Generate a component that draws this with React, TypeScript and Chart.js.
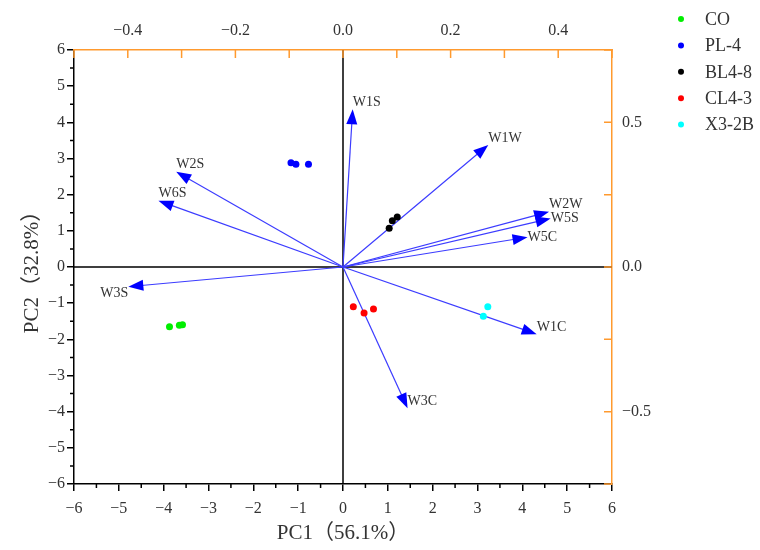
import React, { useEffect, useRef } from 'react';
import { Chart, registerables } from 'chart.js';

Chart.register(...registerables);

// ---- Scores (PC1, PC2) per group ----
const GROUPS = ['CO', 'PL-4', 'BL4-8', 'CL4-3', 'X3-2B'];
const GROUP_COLORS = ['#00ee00', '#0000ff', '#000000', '#ff0000', '#00ffff'];
const CO_PC1 = [-3.87, -3.65, -3.58];
const CO_PC2 = [-1.65, -1.61, -1.6];
const PL4_PC1 = [-1.16, -1.05, -0.77];
const PL4_PC2 = [2.88, 2.84, 2.84];
const BL48_PC1 = [1.03, 1.1, 1.21];
const BL48_PC2 = [1.07, 1.28, 1.38];
const CL43_PC1 = [0.23, 0.47, 0.68];
const CL43_PC2 = [-1.1, -1.27, -1.16];
const X32B_PC1 = [3.23, 3.13];
const X32B_PC2 = [-1.1, -1.36];
const GROUP_PC1 = [CO_PC1, PL4_PC1, BL48_PC1, CL43_PC1, X32B_PC1];
const GROUP_PC2 = [CO_PC2, PL4_PC2, BL48_PC2, CL43_PC2, X32B_PC2];

// ---- Loadings (top / right axes) ----
const VAR_NAMES = ['W1S', 'W1W', 'W2W', 'W5S', 'W5C', 'W1C', 'W3C', 'W2S', 'W6S', 'W3S'];
const LOAD_PC1 = [0.018, 0.27, 0.383, 0.386, 0.343, 0.36, 0.12, -0.31, -0.343, -0.399];
const LOAD_PC2 = [0.545, 0.422, 0.191, 0.168, 0.103, -0.232, -0.488, 0.329, 0.229, -0.068];

// ---- Axis text ----
const X_TITLE = 'PC1（56.1%）';
const Y_TITLE = 'PC2（32.8%）';

// label anchor style for each vector label (style only)
const LABEL_ANCHOR = ['lb', 'lb', 'lb', 'lm', 'lm', 'lb', 'lb', 'lb', 'lb', 'rt'];

const SERIF = "'Liberation Serif', 'Noto Sans CJK SC', serif";
const ORANGE = '#ff9a2e';
const TXT = '#333333';

const fmt = (v: number, d: number) => {
  const s = Math.abs(v).toFixed(d);
  return v < -1e-9 ? '\u2212' + s : s;
};

const biplot = {
  id: 'biplot',
  beforeDatasetsDraw(chart: any) {
    const { ctx, chartArea: a, scales } = chart;
    const x = scales.x, y = scales.y, x2 = scales.x2, y2 = scales.y2;
    ctx.save();
    ctx.strokeStyle = '#000';
    ctx.lineWidth = 1.5;
    const zx = x.getPixelForValue(0), zy = y.getPixelForValue(0);
    ctx.beginPath();
    ctx.moveTo(zx, a.top); ctx.lineTo(zx, a.bottom);
    ctx.moveTo(a.left, zy); ctx.lineTo(a.right, zy);
    ctx.stroke();

    const ox = x2.getPixelForValue(0), oy = y2.getPixelForValue(0);
    ctx.font = '14px ' + SERIF;
    VAR_NAMES.forEach((name, i) => {
      const tx = x2.getPixelForValue(LOAD_PC1[i]);
      const ty = y2.getPixelForValue(LOAD_PC2[i]);
      const ang = Math.atan2(ty - oy, tx - ox);
      const L = 15, W = 5.5;
      const bx = tx - L * Math.cos(ang), by = ty - L * Math.sin(ang);
      ctx.strokeStyle = '#3c3cff';
      ctx.lineWidth = 1.2;
      ctx.beginPath(); ctx.moveTo(ox, oy); ctx.lineTo(bx + 2 * Math.cos(ang), by + 2 * Math.sin(ang)); ctx.stroke();
      ctx.fillStyle = '#0000ff';
      ctx.beginPath();
      ctx.moveTo(tx, ty);
      ctx.lineTo(bx - W * Math.sin(ang), by + W * Math.cos(ang));
      ctx.lineTo(bx + W * Math.sin(ang), by - W * Math.cos(ang));
      ctx.closePath();
      ctx.fill();
      const an = LABEL_ANCHOR[i];
      ctx.fillStyle = TXT;
      ctx.textAlign = an[0] === 'l' ? 'left' : 'right';
      ctx.textBaseline = an[1] === 'b' ? 'bottom' : an[1] === 'm' ? 'middle' : 'top';
      ctx.fillText(name, tx, ty);
    });
    ctx.restore();
  },
  afterDraw(chart: any) {
    const { ctx, chartArea: a, scales } = chart;
    const x = scales.x, y = scales.y, x2 = scales.x2, y2 = scales.y2;
    ctx.save();
    // inward ticks, orange axes
    ctx.strokeStyle = ORANGE;
    ctx.lineWidth = 1.5;
    ctx.beginPath();
    x2.ticks.forEach((t: any) => {
      const px = x2.getPixelForValue(t.value);
      ctx.moveTo(px, a.top); ctx.lineTo(px, a.top + 8);
    });
    y2.ticks.forEach((t: any) => {
      const py = y2.getPixelForValue(t.value);
      ctx.moveTo(a.right, py); ctx.lineTo(a.right - 8, py);
    });
    ctx.stroke();
    // minor ticks on black axes
    ctx.strokeStyle = '#000';
    ctx.beginPath();
    for (let v = -5.5; v < 6; v += 1) {
      const px = x.getPixelForValue(v);
      ctx.moveTo(px, a.bottom); ctx.lineTo(px, a.bottom + 4);
      const py = y.getPixelForValue(v);
      ctx.moveTo(a.left, py); ctx.lineTo(a.left - 4, py);
    }
    ctx.stroke();
    // legend
    ctx.font = '18px ' + SERIF;
    ctx.textAlign = 'left';
    ctx.textBaseline = 'middle';
    GROUPS.forEach((g, i) => {
      const ly = 19 + i * 26.4;
      ctx.fillStyle = GROUP_COLORS[i];
      ctx.beginPath(); ctx.arc(681, ly, 3, 0, Math.PI * 2); ctx.fill();
      ctx.fillStyle = TXT;
      ctx.fillText(g, 705, ly + 1);
    });
    ctx.restore();
  },
};

export default function App() {
  const ref = useRef<HTMLCanvasElement>(null);
  useEffect(() => {
    if (!ref.current) return;
    const tickFont = { family: SERIF, size: 16 };
    const titleFont = { family: SERIF, size: 21 };
    const chart = new Chart(ref.current, {
      type: 'scatter',
      data: {
        datasets: GROUPS.map((g, i) => ({
          label: g,
          data: GROUP_PC1[i].map((v, j) => ({ x: v, y: GROUP_PC2[i][j] })),
          backgroundColor: GROUP_COLORS[i],
          borderWidth: 0,
          pointRadius: 3.5,
          xAxisID: 'x',
          yAxisID: 'y',
        })),
      },
      options: {
        animation: false,
        responsive: false,
        devicePixelRatio: 1,
        layout: { padding: 0 },
        plugins: { legend: { display: false }, tooltip: { enabled: false } },
        scales: {
          x: {
            type: 'linear', position: 'bottom', min: -6, max: 6,
            ticks: { stepSize: 1, font: tickFont, color: TXT, padding: 8, autoSkip: false, maxRotation: 0, callback: (v: any) => fmt(v, 0) },
            grid: { display: true, drawOnChartArea: false, drawTicks: true, tickLength: 7, color: '#000', lineWidth: 1.5 },
            border: { display: true, color: '#000', width: 1.5 },
            title: { display: true, text: X_TITLE, font: titleFont, color: TXT, padding: { top: 0, bottom: 4 } },
            afterFit: (s: any) => { s.height = 66; },
          },
          y: {
            type: 'linear', position: 'left', min: -6, max: 6,
            ticks: { stepSize: 1, font: tickFont, color: TXT, padding: 2, autoSkip: false, callback: (v: any) => fmt(v, 0) },
            grid: { display: true, drawOnChartArea: false, drawTicks: true, tickLength: 7, color: '#000', lineWidth: 1.5 },
            border: { display: true, color: '#000', width: 1.5 },
            title: { display: true, text: Y_TITLE, font: titleFont, color: TXT, padding: { top: 20, bottom: 0 } },
            afterFit: (s: any) => { s.width = 74; },
          },
          x2: {
            type: 'linear', position: 'top', min: -0.5, max: 0.5,
            ticks: {
              stepSize: 0.1, font: tickFont, color: TXT, padding: 10, autoSkip: false, maxRotation: 0,
              callback: (v: any) => (Math.abs(Math.round(v * 10)) % 2 === 0 ? fmt(v, 1) : ''),
            },
            grid: { display: false, drawOnChartArea: false, drawTicks: false },
            border: { display: true, color: ORANGE, width: 1.5 },
            afterFit: (s: any) => { s.height = 50; },
          },
          y2: {
            type: 'linear', position: 'right', min: -0.75, max: 0.75,
            ticks: {
              stepSize: 0.25, font: tickFont, color: TXT, padding: 10, autoSkip: false,
              callback: (v: any) => (Math.abs(Math.round(v * 4)) % 2 === 0 ? fmt(v, 1) : ''),
            },
            grid: { display: false, drawOnChartArea: false, drawTicks: false },
            border: { display: true, color: ORANGE, width: 1.5 },
            afterFit: (s: any) => { s.width = 148; },
          },
        },
      },
      plugins: [biplot],
    } as any);
    return () => chart.destroy();
  }, []);
  return (
    <canvas
      ref={ref}
      width={760}
      height={550}
      style={{ position: 'fixed', left: 0, top: 0, width: 760, height: 550, background: '#fff' }}
    />
  );
}
